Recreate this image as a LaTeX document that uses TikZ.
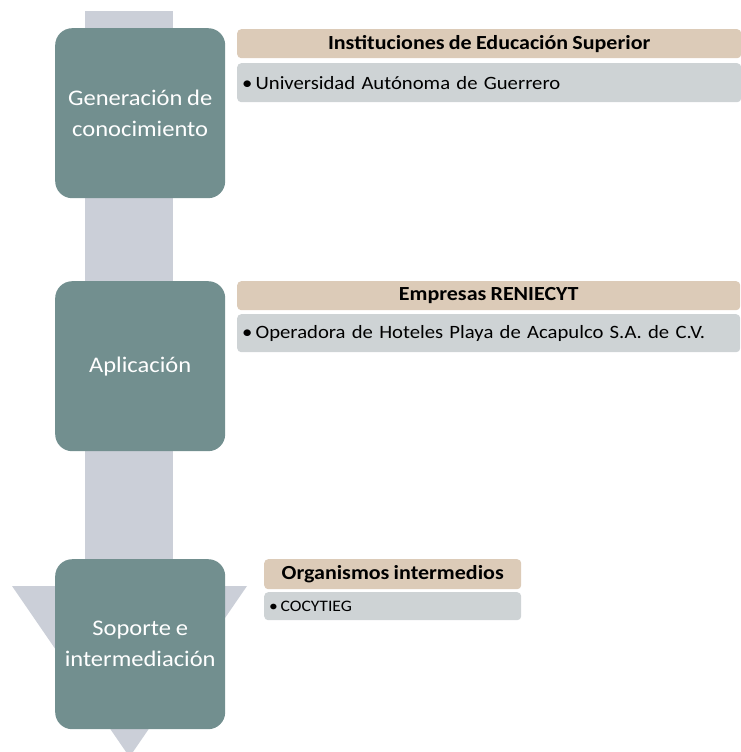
\documentclass[tikz,border=0pt]{standalone}
\usepackage{fontspec}
\setmainfont{Carlito}[FakeStretch=1.1,WordSpace=0.85]
\definecolor{stageteal}{RGB}{114,143,143}
\definecolor{shaftgray}{RGB}{203,207,216}
\definecolor{headtan}{RGB}{220,203,184}
\definecolor{itemgray}{RGB}{206,211,213}
\tikzset{
  stagebox/.style={fill=stageteal,rounded corners=17pt,text=white,align=center,
    minimum width=170pt,minimum height=170pt,inner sep=0pt,anchor=north west,
    font=\fontsize{22.3}{31}\selectfont},
  headbox/.style={fill=headtan,rounded corners=4pt,inner sep=0pt,anchor=north west,
    font=\bfseries\fontsize{20}{22}\selectfont},
  itembox/.style={fill=itemgray,rounded corners=4pt,inner xsep=5pt,inner ysep=0pt,
    anchor=north west,align=left,font=\fontsize{18.8}{21}\selectfont}
}
\begin{document}
\begin{tikzpicture}[x=1pt,y=-1pt]
    \useasboundingbox (0,0) rectangle (741,752);
    % arrow behind the stages
    \fill[shaftgray] (85,11) rectangle (173,587);
    \fill[shaftgray] (12,586) -- (247,586) -- (129.5,757) -- cycle;
    % stages
    \node[stagebox] (gen) at (55,28) {Generación de\\conocimiento};
    \node[stagebox] (apl) at (55,281) {Aplicación};
    \node[stagebox] (sop) at (55,559) {Soporte e\\intermediación};
    % first stage
    \node[headbox,minimum width=504pt,minimum height=29pt] (ies) at (237,29) {Instituciones de Educación Superior};
    \node[itembox,text width=494pt,minimum height=39pt] (uag) at (237,63) {•\,Universidad Autónoma de Guerrero};
    % second stage
    \node[headbox,minimum width=503pt,minimum height=29pt] (emp) at (237,281) {Empresas RENIECYT};
    \node[itembox,text width=493pt,minimum height=38pt] (ohp) at (237,314) {•\,Operadora de Hoteles Playa de Acapulco S.A. de C.V.};
    % third stage
    \node[headbox,minimum width=257pt,minimum height=30pt] (org) at (264,559) {Organismos intermedios};
    \node[itembox,text width=247pt,minimum height=28pt,font=\fontsize{16}{18}\selectfont] (coc) at (264,592) {•\,COCYTIEG};
\end{tikzpicture}
\end{document}
